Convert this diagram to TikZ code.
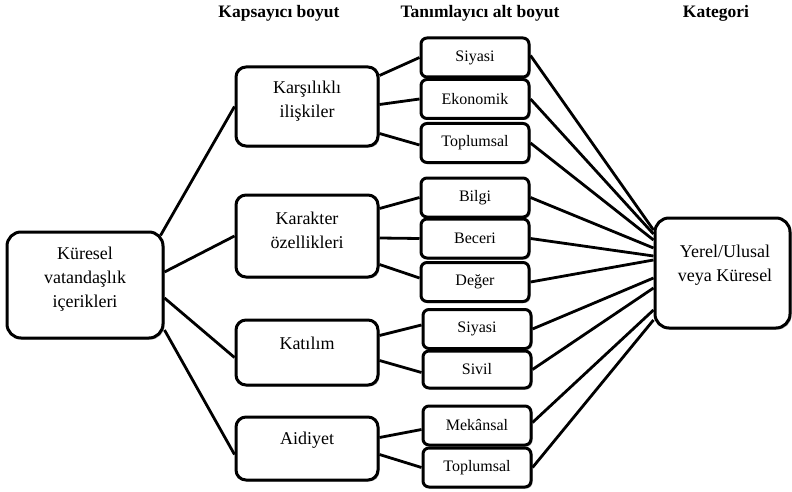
\documentclass[tikz,border=0pt]{standalone}
\usepackage{fontspec}
\setmainfont{Liberation Serif}
\usetikzlibrary{shadows}
\begin{document}
\begin{tikzpicture}[x=1pt,y=-1pt,
  shd/.style={drop shadow={shadow xshift=1.5pt,shadow yshift=-1.5pt,opacity=0.3,fill=black}},
  bigbox/.style={draw, line width=3pt, fill=white, rounded corners=10pt, inner sep=0pt, shd},
  smallbox/.style={draw, line width=3pt, fill=white, rounded corners=6pt, inner sep=0pt, shd,
     minimum width=108pt, minimum height=39pt, font=\fontsize{16}{20}\selectfont},
  bigtext/.style={align=center, inner sep=0pt, font=\fontsize{18}{24}\selectfont},
  head/.style={inner sep=0pt, font=\fontsize{17.5}{21}\selectfont\bfseries},
  conn/.style={line width=2.8pt}]
\useasboundingbox (0,0) rectangle (792,492);

% headings
\node[head] (h1) at (279,13) {Kapsayıcı boyut};
\node[head] (h2) at (480,13) {Tanımlayıcı alt boyut};
\node[head] (h3) at (716,13) {Kategori};

% left box
\node[bigbox, rounded corners=14pt, minimum width=156pt, minimum height=106pt] (L) at (85,285) {};
\node[bigtext] (Lt) at (85,279) {Küresel\\vatandaşlık\\içerikleri};

% middle boxes
\node[bigbox, minimum width=142pt, minimum height=79pt] (K1) at (307,106.5) {};
\node[bigtext] (K1t) at (307,101.5) {Karşılıklı\\ilişkiler};
\node[bigbox, minimum width=142pt, minimum height=82pt] (K2) at (307,236) {};
\node[bigtext] (K2t) at (307,230) {Karakter\\özellikleri};
\node[bigbox, minimum width=142pt, minimum height=65pt] (K3) at (307,352.5) {};
\node[bigtext] (K3t) at (307,343) {Katılım};
\node[bigbox, minimum width=142pt, minimum height=63pt] (K4) at (307,448.5) {};
\node[bigtext] (K4t) at (307,440) {Aidiyet};

% small boxes
\node[smallbox] (S1) at (475,57.5) {Siyasi};
\node[smallbox] (S2) at (475,99) {Ekonomik};
\node[smallbox] (S3) at (475,143) {Toplumsal};
\node[smallbox] (S4) at (475,197.5) {Bilgi};
\node[smallbox] (S5) at (475,238.5) {Beceri};
\node[smallbox] (S6) at (475,282) {Değer};
\node[smallbox] (S7) at (477,329) {Siyasi};
\node[smallbox, minimum height=37pt] (S8) at (477,369.5) {Sivil};
\node[smallbox] (S9) at (477,425.5) {Mekânsal};
\node[smallbox] (S10) at (477,467.5) {Toplumsal};

% right box
\node[bigbox, rounded corners=14pt, minimum width=135pt, minimum height=110pt] (R) at (722.5,273) {};
\node[bigtext] (Rt) at (725,265.5) {Yerel/Ulusal\\veya Küresel};

% connectors: left to middle
\begin{scope}[conn]
\draw ([xshift=-4pt,yshift=-5pt]L.north east) -- (K1.west);
\draw ([yshift=13pt]L.east) -- (K2.west);
\draw ([yshift=-13pt]L.east) -- ([yshift=-5pt]K3.west);
\draw ([yshift=-45pt]L.east) -- ([yshift=-6pt]K4.west);
% middle to small
\draw ([yshift=-10pt]K1.north east) -- (S1.west);
\draw ([yshift=2pt]K1.east) -- (S2.west);
\draw ([yshift=14pt]K1.south east) -- ([yshift=-2pt]S3.west);
\draw ([yshift=-15pt]K2.north east) -- (S4.west);
\draw ([yshift=-2pt]K2.east) -- (S5.west);
\draw ([yshift=14pt]K2.south east) -- ([yshift=4pt]S6.west);
\draw ([yshift=-17pt]K3.north east) -- ([yshift=4pt]S7.west);
\draw ([yshift=-8pt]K3.east) -- ([yshift=-3pt]S8.west);
\draw ([yshift=11pt]K4.east) -- ([yshift=-4pt]S9.west);
\draw ([yshift=-6pt]K4.east) -- (S10.west);
% small to right
\draw ([yshift=2pt]S1.east) -- ([yshift=43pt]R.west);
\draw (S2.east) -- ([yshift=39pt]R.west);
\draw (S3.east) -- ([yshift=33pt]R.west);
\draw (S4.east) -- ([yshift=25pt]R.west);
\draw (S5.east) -- ([yshift=17pt]R.west);
\draw (S6.east) -- ([yshift=13pt]R.west);
\draw (S7.east) -- ([yshift=-5pt]R.west);
\draw (S8.east) -- ([yshift=-15pt]R.west);
\draw ([yshift=3pt]S9.east) -- ([yshift=-37pt]R.west);
\draw (S10.east) -- ([yshift=-47pt]R.west);
\end{scope}
\end{tikzpicture}
\end{document}
